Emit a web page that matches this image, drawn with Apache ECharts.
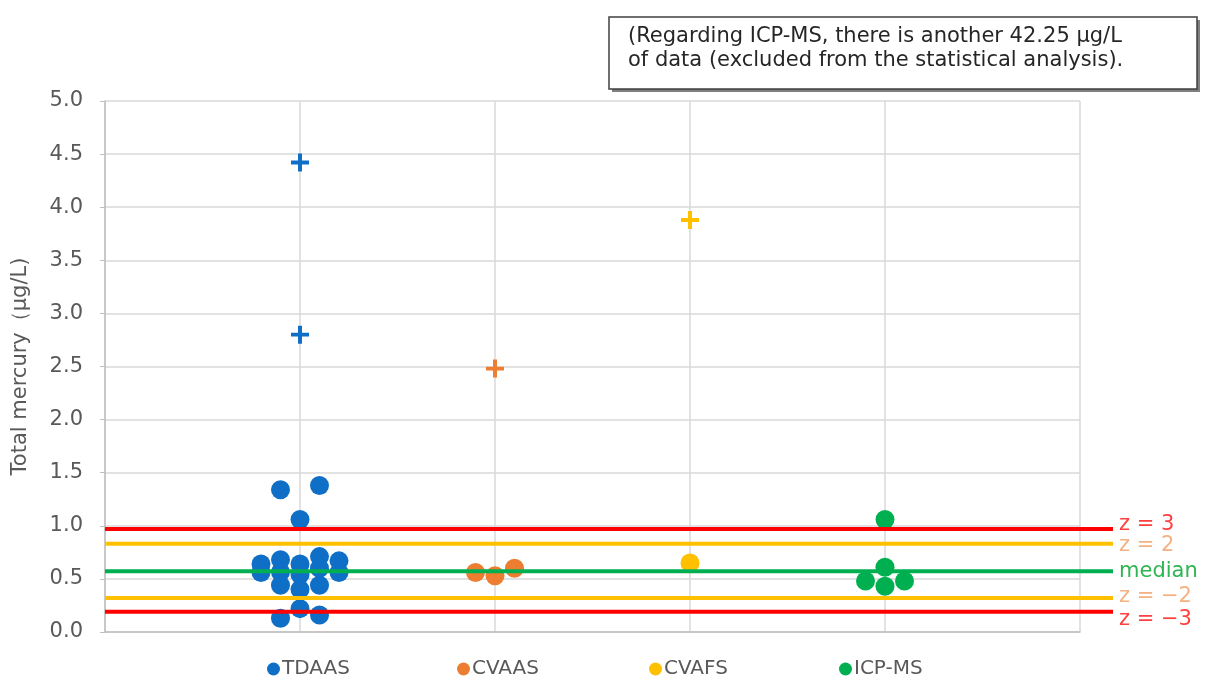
<!DOCTYPE html>
<html>
<head>
<meta charset="utf-8">
<script src="https://cdn.jsdelivr.net/npm/echarts@6/dist/echarts.min.js"></script>
<style>html,body{margin:0;padding:0;background:#fff;}#c{width:1216px;height:677px;}</style>
</head>
<body>
<div id="c"></div>
<script>
// ---- data ----
var methods = ['TDAAS', 'CVAAS', 'CVAFS', 'ICP-MS'];
var methodColors = ['#0f6fc6', '#ed7d31', '#ffc000', '#00b050'];
// jitter slot (-2..2) and value for each circle
var tdaasSlots  = [-1, 1, 0, -2, -2, -1, -1, -1, -1, 0, 0, 0, 0, 1, 1, 1, 1, 2, 2];
var tdaasValues = [1.34, 1.38, 1.06, 0.64, 0.56, 0.68, 0.565, 0.44, 0.13, 0.64, 0.54, 0.40, 0.22, 0.71, 0.60, 0.44, 0.16, 0.67, 0.56];
var cvaasSlots  = [-1, 0, 1];
var cvaasValues = [0.56, 0.53, 0.60];
var cvafsSlots  = [0];
var cvafsValues = [0.65];
var icpSlots    = [0, 0, -1, 1, 0];
var icpValues   = [1.06, 0.61, 0.48, 0.48, 0.43];
// outliers (+ markers): method index, value
var outlierMethod = [0, 0, 1, 2];
var outlierValues = [4.42, 2.80, 2.48, 3.88];
// reference lines
var refNames  = ['z = 3', 'z = 2', 'median', 'z = \u22122', 'z = \u22123'];
var refValues = [0.97, 0.83, 0.572, 0.32, 0.19];
var refColors = ['#ff0000', '#ffc000', '#00b050', '#ffc000', '#ff0000'];
var refLabelColors = ['#ff4040', '#f4b183', '#2fb552', '#f4b183', '#ff4040'];
var refLabelOffsets = [[0, -4], [0, 2], [0, 0], [0, -1], [0, 8]];
var noteLines = ['(Regarding ICP-MS, there is another 42.25 \u03bcg/L', 'of data (excluded from the statistical analysis).'];

var slotWidth = 0.1;
function pts(mi, slots, vals) {
  return vals.map(function (v, i) { return [mi + 1 + slots[i] * slotWidth, v]; });
}
var allSlots = [tdaasSlots, cvaasSlots, cvafsSlots, icpSlots];
var allVals = [tdaasValues, cvaasValues, cvafsValues, icpValues];

var series = [];
methods.forEach(function (m, mi) {
  series.push({
    name: m, type: 'scatter', xAxisIndex: 0, yAxisIndex: 0,
    symbol: 'circle', symbolSize: 19,
    itemStyle: { color: methodColors[mi], opacity: 1 },
    data: pts(mi, allSlots[mi], allVals[mi]), z: 3
  });
});
var crossPath = 'path://M3.9,0H6.1V3.9H10V6.1H6.1V10H3.9V6.1H0V3.9H3.9Z';
outlierValues.forEach(function (v, i) {
  series.push({
    name: 'outlier' + i, type: 'scatter', xAxisIndex: 0, yAxisIndex: 0,
    symbol: crossPath, symbolSize: 18,
    itemStyle: { color: methodColors[outlierMethod[i]], opacity: 1 },
    data: [[outlierMethod[i] + 1, v]], z: 3
  });
});
refValues.forEach(function (v, i) {
  series.push({
    name: refNames[i], type: 'line', xAxisIndex: 1, yAxisIndex: 1,
    showSymbol: false, symbol: 'none',
    lineStyle: { color: refColors[i], width: 4 },
    data: [[0, v], [1, v]], z: 5,
    endLabel: {
      show: true, formatter: refNames[i], color: refLabelColors[i],
      fontFamily: 'DejaVu Sans', fontSize: 21, distance: 6,
      offset: refLabelOffsets[i]
    }
  });
});

var legendLefts = [262, 452, 644, 834];
var legends = methods.map(function (m, i) {
  return {
    data: [{ name: m, icon: 'circle' }], left: legendLefts[i], top: 654,
    itemWidth: 13, itemHeight: 13, itemGap: 4,
    textStyle: { color: '#595959', fontSize: 20, fontFamily: 'DejaVu Sans', padding: [0, 0, 0, -3] },
    selectedMode: false
  };
});

var option = {
  animation: false,
  backgroundColor: '#ffffff',
  grid: [
    { left: 105, right: 136, top: 101, bottom: 45 },
    { left: 105, right: 103, top: 101, bottom: 45 }
  ],
  xAxis: [
    { type: 'value', gridIndex: 0, min: 0, max: 5, interval: 1,
      axisLine: { show: true, lineStyle: { color: '#bfbfbf', width: 1.5 } },
      axisTick: { show: false }, axisLabel: { show: false },
      splitLine: { show: true, lineStyle: { color: '#d9d9d9', width: 1.5 } } },
    { type: 'value', gridIndex: 1, min: 0, max: 1, show: false, splitLine: { show: false } }
  ],
  yAxis: [
    { type: 'value', gridIndex: 0, min: 0, max: 5, interval: 0.5,
      name: 'Total mercury\uff08\u03bcg/L)', nameLocation: 'middle', nameGap: 74, nameRotate: 90,
      nameTextStyle: { color: '#595959', fontSize: 21, fontFamily: 'DejaVu Sans' },
      axisLine: { show: true, lineStyle: { color: '#bfbfbf', width: 1.5 } },
      axisTick: { show: true, length: 5, lineStyle: { color: '#bfbfbf' } },
      axisLabel: { color: '#595959', fontSize: 21, fontFamily: 'DejaVu Sans', margin: 22,
        formatter: function (v) { return v.toFixed(1); } },
      splitLine: { show: true, lineStyle: { color: '#d9d9d9', width: 1.5 } } },
    { type: 'value', gridIndex: 1, min: 0, max: 5, show: false, splitLine: { show: false } }
  ],
  legend: legends,
  series: series,
  graphic: [
    { type: 'rect', shape: { x: 612, y: 20, width: 588, height: 72 },
      style: { fill: '#7f7f7f' }, z: 10 },
    { type: 'rect', shape: { x: 609, y: 17, width: 588, height: 72 },
      style: { fill: '#ffffff', stroke: '#404040', lineWidth: 1.5 }, z: 11 },
    { type: 'text', x: 628, y: 26, z: 12,
      style: { text: noteLines[0], fill: '#262626', fontSize: 21, fontFamily: 'DejaVu Sans' } },
    { type: 'text', x: 628, y: 50, z: 12,
      style: { text: noteLines[1], fill: '#262626', fontSize: 21, fontFamily: 'DejaVu Sans' } }
  ]
};
var chart = echarts.init(document.getElementById('c'), null, { renderer: 'canvas' });
chart.setOption(option);
</script>
</body>
</html>
